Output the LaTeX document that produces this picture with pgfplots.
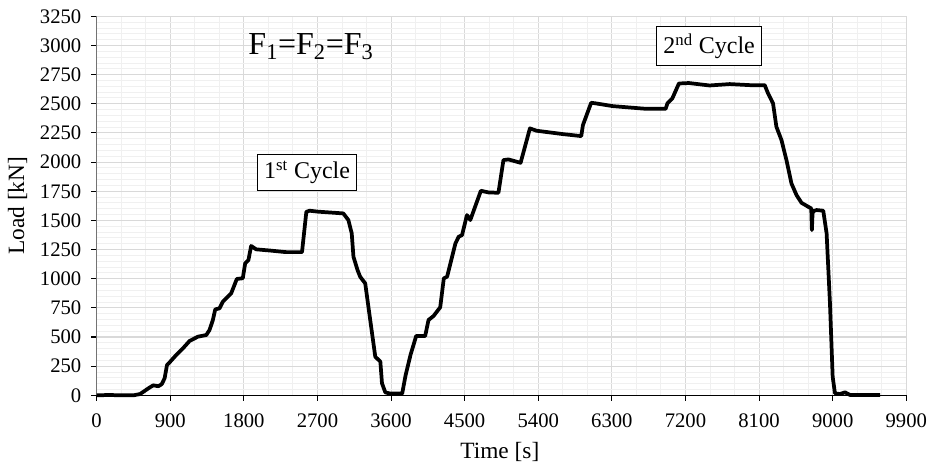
\documentclass[border=0pt]{standalone}
\usepackage{pgfplots}
\pgfplotsset{compat=1.18}
\usepackage{fontspec}
\setmainfont{Liberation Serif}

% load history
\pgfplotstableread{
t F
0 0
150 3
300 0
450 0
530 11
652 69
693 86
754 78
795 95
831 146
860 260
900 289
973 346
1055 403
1136 466
1238 503
1340 517
1380 560
1421 646
1450 737
1502 746
1543 803
1645 875
1714 998
1787 1004
1816 1132
1856 1161
1889 1281
1950 1252
2113 1242
2316 1228
2511 1228
2564 1574
2605 1583
2708 1575
3016 1560
3078 1503
3119 1389
3140 1189
3190 1074
3222 1017
3284 960
3345 646
3407 331
3469 289
3489 103
3530 25
3592 15
3736 15
3777 170
3839 350
3874 431
3907 509
4017 509
4058 646
4119 680
4201 755
4245 1003
4285 1017
4387 1303
4427 1360
4468 1374
4528 1546
4569 1503
4698 1754
4792 1740
4913 1737
4974 2017
5035 2023
5184 1994
5298 2289
5379 2269
5703 2240
5926 2223
5946 2317
6047 2509
6108 2503
6310 2480
6715 2457
6958 2457
6979 2503
7039 2546
7120 2674
7242 2678
7494 2657
7740 2669
7985 2660
8169 2660
8210 2589
8271 2503
8312 2303
8374 2189
8435 2017
8496 1817
8558 1717
8619 1651
8701 1617
8738 1603
8746 1417
8754 1560
8765 1580
8803 1589
8885 1583
8926 1389
8967 789
9000 160
9028 17
9090 11
9151 26
9212 3
9581 3
}\loaddata

\begin{document}
\begin{tikzpicture}
\useasboundingbox (-72.5pt,-54.5pt) rectangle (625.75pt,296.5pt);
\begin{axis}[
  anchor=south west, at={(0,0)},
  scale only axis, width=607.2pt, height=284.25pt,
  xmin=0, xmax=9900, ymin=0, ymax=3250,
  xtick distance=900, ytick distance=250,
  minor x tick num=2, minor y tick num=4,
  grid=both,
  major grid style={color=black!15, line width=0.8pt},
  minor grid style={color=black!6, line width=0.7pt},
  axis x line*=bottom, axis y line*=left,
  axis line style={-},
  x axis line style={black, line width=0.9pt},
  y axis line style={black!55, line width=0.9pt},
  tick align=outside, major tick length=4pt, minor tick length=0pt,
  tick style={black, line width=0.8pt},
  font=\fontsize{17.5pt}{20pt}\selectfont,
  ticklabel style={font=\fontsize{15.5pt}{18pt}\selectfont},
  yticklabel style={xshift=-4pt},
  xticklabel style={yshift=-6pt},
  /pgf/number format/assume math mode=true,
  /pgf/number format/set thousands separator={},
  xlabel={Time [s]}, ylabel={Load [kN]},
  xlabel style={at={(axis description cs:0.498,-0.1496)}, anchor=center},
  ylabel style={at={(axis description cs:-0.0976,0.5)}, anchor=center},
  clip=false,
]
\addplot[black, line width=2.8pt, line join=round] table[x=t, y=F] {\loaddata};
\node[font=\fontsize{24pt}{28pt}\selectfont] at (axis cs:2621,2987)
  {F\textsubscript{1}=F\textsubscript{2}=F\textsubscript{3}};
\node[draw=black, line width=0.7pt, fill=white, inner xsep=5pt, inner ysep=5pt,
  font=\fontsize{18pt}{21pt}\selectfont] at (axis cs:2573,1910)
  {1\textsuperscript{st} Cycle};
\node[draw=black, line width=0.7pt, fill=white, inner xsep=5pt, inner ysep=5pt,
  font=\fontsize{18pt}{21pt}\selectfont] at (axis cs:7489,2995)
  {2\textsuperscript{nd} Cycle};
\end{axis}
\end{tikzpicture}
\end{document}
